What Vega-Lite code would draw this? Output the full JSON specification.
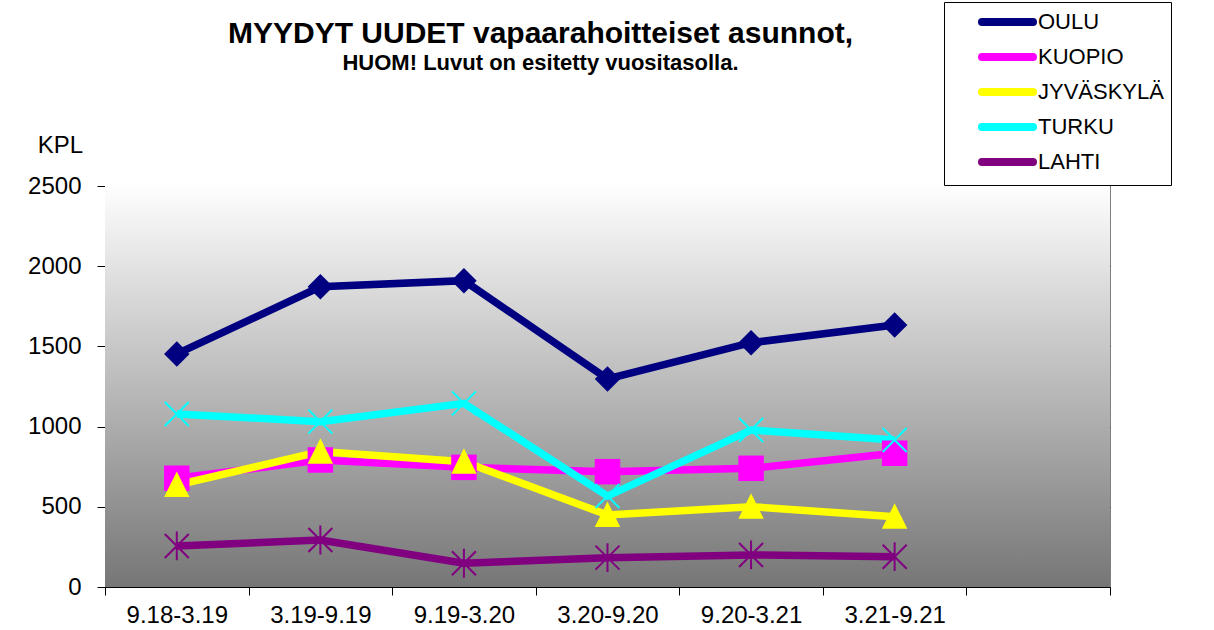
{
  "$schema": "https://vega.github.io/schema/vega-lite/v6.json",
  "width": 1005,
  "height": 401,
  "autosize": {"type": "none"},
  "padding": {"left": 105, "top": 186, "right": 104, "bottom": 43},
  "background": "white",
  "config": {
    "font": "Liberation Sans",
    "view": {"stroke": "#808080", "strokeWidth": 1}
  },
  "title": {
    "text": "MYYDYT UUDET vapaarahoitteiset asunnot,",
    "subtitle": "HUOM! Luvut on esitetty vuositasolla.",
    "font": "Liberation Sans",
    "fontSize": 30,
    "fontWeight": "bold",
    "subtitleFont": "Liberation Sans",
    "subtitleFontSize": 22,
    "subtitleFontWeight": "bold",
    "subtitleColor": "black",
    "color": "black",
    "anchor": "middle",
    "frame": "group",
    "dx": -67,
    "offset": -72,
    "subtitlePadding": 4
  },
  "data": {
    "values": [
      {"period": "9.18-3.19", "city": "OULU", "value": 1453},
      {"period": "3.19-9.19", "city": "OULU", "value": 1872},
      {"period": "9.19-3.20", "city": "OULU", "value": 1910},
      {"period": "3.20-9.20", "city": "OULU", "value": 1297},
      {"period": "9.20-3.21", "city": "OULU", "value": 1523},
      {"period": "3.21-9.21", "city": "OULU", "value": 1633},
      {"period": "9.18-3.19", "city": "KUOPIO", "value": 678},
      {"period": "3.19-9.19", "city": "KUOPIO", "value": 792},
      {"period": "9.19-3.20", "city": "KUOPIO", "value": 746},
      {"period": "3.20-9.20", "city": "KUOPIO", "value": 719},
      {"period": "9.20-3.21", "city": "KUOPIO", "value": 740},
      {"period": "3.21-9.21", "city": "KUOPIO", "value": 834},
      {"period": "9.18-3.19", "city": "JYVÄSKYLÄ", "value": 636},
      {"period": "3.19-9.19", "city": "JYVÄSKYLÄ", "value": 844},
      {"period": "9.19-3.20", "city": "JYVÄSKYLÄ", "value": 781},
      {"period": "3.20-9.20", "city": "JYVÄSKYLÄ", "value": 449},
      {"period": "9.20-3.21", "city": "JYVÄSKYLÄ", "value": 501},
      {"period": "3.21-9.21", "city": "JYVÄSKYLÄ", "value": 438},
      {"period": "9.18-3.19", "city": "TURKU", "value": 1079},
      {"period": "3.19-9.19", "city": "TURKU", "value": 1031},
      {"period": "9.19-3.20", "city": "TURKU", "value": 1145},
      {"period": "3.20-9.20", "city": "TURKU", "value": 567},
      {"period": "9.20-3.21", "city": "TURKU", "value": 979},
      {"period": "3.21-9.21", "city": "TURKU", "value": 916},
      {"period": "9.18-3.19", "city": "LAHTI", "value": 256},
      {"period": "3.19-9.19", "city": "LAHTI", "value": 293},
      {"period": "9.19-3.20", "city": "LAHTI", "value": 148},
      {"period": "3.20-9.20", "city": "LAHTI", "value": 183},
      {"period": "9.20-3.21", "city": "LAHTI", "value": 200},
      {"period": "3.21-9.21", "city": "LAHTI", "value": 189}
    ]
  },
  "layer": [
    {
      "data": {"values": [{"bg": 1}]},
      "mark": {
        "type": "rect",
        "color": {
          "gradient": "linear",
          "x1": 0, "y1": 0, "x2": 0, "y2": 1,
          "stops": [
            {"offset": 0, "color": "#fefefe"},
            {"offset": 1, "color": "#767676"}
          ]
        }
      },
      "encoding": {
        "y": {"datum": 0, "type": "quantitative"},
        "y2": {"datum": 2500}
      }
    },
    {
      "mark": {"type": "line", "strokeWidth": 7.5, "strokeJoin": "miter"},
      "encoding": {
        "x": {
          "field": "period",
          "type": "ordinal",
          "sort": null,
          "scale": {
            "type": "band",
            "domain": ["9.18-3.19", "3.19-9.19", "9.19-3.20", "3.20-9.20", "9.20-3.21", "3.21-9.21", " "],
            "paddingInner": 0,
            "paddingOuter": 0
          },
          "axis": {
            "title": null,
            "labelAngle": 0,
            "labelFontSize": 24,
            "labelColor": "black",
            "labelFont": "Liberation Sans",
            "labelPadding": 8,
            "tickBand": "extent",
            "tickSize": 8,
            "tickColor": "black",
            "domainColor": "black",
            "grid": false
          }
        },
        "y": {
          "field": "value",
          "type": "quantitative",
          "scale": {"domain": [0, 2500], "nice": false},
          "axis": {
            "title": "KPL",
            "titleAngle": 0,
            "titleX": -45,
            "titleY": -41,
            "titleAlign": "center",
            "titleBaseline": "middle",
            "titleFontSize": 24,
            "titleFontWeight": "normal",
            "titleColor": "black",
            "titleFont": "Liberation Sans",
            "values": [0, 500, 1000, 1500, 2000, 2500],
            "format": "d",
            "labelFontSize": 24,
            "labelColor": "black",
            "labelFont": "Liberation Sans",
            "labelPadding": 16,
            "tickSize": 8,
            "tickColor": "black",
            "domainColor": "black",
            "grid": true,
            "gridColor": "#333333",
            "gridWidth": 1
          }
        },
        "color": {
          "field": "city",
          "type": "nominal",
          "scale": {
            "domain": ["OULU", "KUOPIO", "JYVÄSKYLÄ", "TURKU", "LAHTI"],
            "range": ["#000080", "#ff00ff", "#ffff00", "#00ffff", "#800080"]
          },
          "legend": {
            "title": null,
            "orient": "none",
            "legendX": 839,
            "legendY": -184,
            "padding": 7,
            "strokeColor": "black",
            "fillColor": "white",
            "symbolType": "M0,0L5.67,0",
            "symbolSize": 324,
            "symbolStrokeWidth": 8,
            "symbolOffset": 18,
            "labelOffset": 43,
            "labelFontSize": 22,
            "labelFont": "Liberation Sans",
            "labelColor": "black",
            "rowPadding": 3,
            "labelExpr": "datum.value == 'JYVÄSKYLÄ' ? 'JYVÄSKYLÄ\u2003\u2002' : datum.label",
            "encode": {
              "symbols": {
                "update": {
                  "stroke": {"scale": "color", "field": "value"},
                  "fill": {"value": "transparent"},
                  "strokeWidth": {"value": 8},
                  "strokeCap": {"value": "round"},
                  "opacity": {"value": 1}
                }
              }
            }
          }
        }
      }
    },
    {
      "transform": [{"filter": "datum.city == 'OULU' || datum.city == 'KUOPIO' || datum.city == 'JYVÄSKYLÄ'"}],
      "mark": {"type": "point", "filled": true, "opacity": 1, "size": 650, "strokeWidth": 0},
      "encoding": {
        "x": {"field": "period", "type": "ordinal", "sort": null},
        "y": {"field": "value", "type": "quantitative"},
        "fill": {
          "field": "city",
          "type": "nominal",
          "scale": {
            "domain": ["OULU", "KUOPIO", "JYVÄSKYLÄ"],
            "range": ["#000080", "#ff00ff", "#ffff00"]
          },
          "legend": null
        },
        "shape": {
          "field": "city",
          "type": "nominal",
          "scale": {
            "domain": ["OULU", "KUOPIO", "JYVÄSKYLÄ", "TURKU", "LAHTI"],
            "range": ["diamond", "square", "M0,-1.05L1,0.95L-1,0.95Z", "M-1,-1L1,1M-1,1L1,-1", "M-1,-1L1,1M-1,1L1,-1M0,-1.2L0,1.2"]
          },
          "legend": null
        }
      }
    },
    {
      "transform": [{"filter": "datum.city == 'TURKU' || datum.city == 'LAHTI'"}],
      "mark": {"type": "point", "filled": false, "opacity": 1, "size": 576, "strokeWidth": 2},
      "encoding": {
        "x": {"field": "period", "type": "ordinal", "sort": null},
        "y": {"field": "value", "type": "quantitative"},
        "stroke": {
          "field": "city",
          "type": "nominal",
          "scale": {
            "domain": ["TURKU", "LAHTI"],
            "range": ["#00ffff", "#800080"]
          },
          "legend": null
        },
        "shape": {
          "field": "city",
          "type": "nominal",
          "scale": {
            "domain": ["OULU", "KUOPIO", "JYVÄSKYLÄ", "TURKU", "LAHTI"],
            "range": ["diamond", "square", "M0,-1.05L1,0.95L-1,0.95Z", "M-1,-1L1,1M-1,1L1,-1", "M-1,-1L1,1M-1,1L1,-1M0,-1.2L0,1.2"]
          },
          "legend": null
        }
      }
    }
  ],
  "resolve": {"scale": {"shape": "independent", "fill": "independent", "stroke": "independent"}, "legend": {"shape": "independent", "fill": "independent", "stroke": "independent"}}
}
